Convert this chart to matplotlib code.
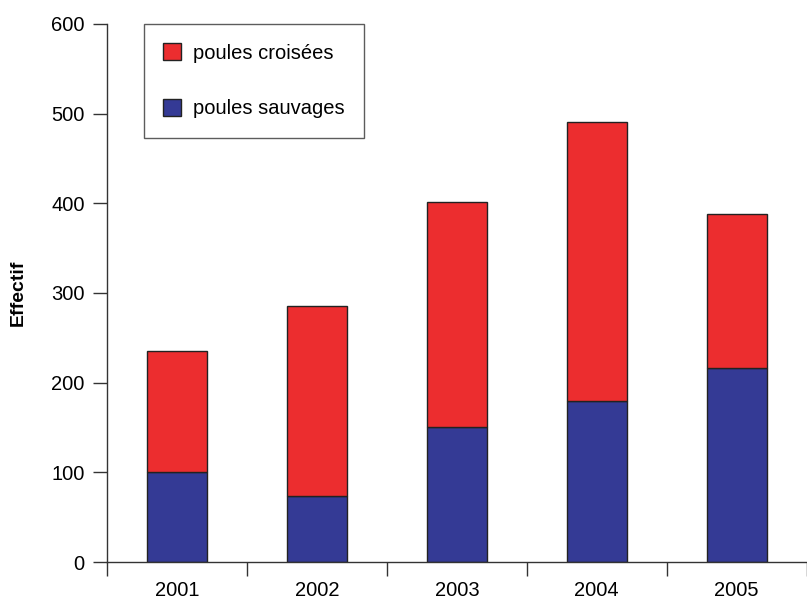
import numpy as np
import matplotlib
matplotlib.use("Agg")
import matplotlib.pyplot as plt
from matplotlib.ticker import FixedLocator

plt.rcParams['font.family'] = ['Liberation Sans', 'DejaVu Sans']

# Data
years = ["2001", "2002", "2003", "2004", "2005"]
sauvages = [100, 74, 150, 180, 216]
croisees = [135, 211, 251, 311, 172]

red = "#EC2D2F"
blue = "#343A95"
edge = "#222222"

fig = plt.figure(figsize=(8.07, 6.02), dpi=100)
ax = fig.add_axes([0.1326, 0.0664, 0.867, 0.894])

x = np.arange(len(years))
w = 0.43
ax.bar(x, sauvages, width=w, color=blue, edgecolor=edge, linewidth=1.0,
       label="poules sauvages")
ax.bar(x, croisees, width=w, bottom=sauvages, color=red, edgecolor=edge,
       linewidth=1.0, label="poules croisées")

ax.set_xlim(-0.5, len(years) - 0.5)
ax.set_ylim(0, 600)
ax.set_yticks(range(0, 601, 100))
ax.set_xticks(x)
ax.set_xticklabels(years)
ax.xaxis.set_minor_locator(FixedLocator(np.arange(-0.5, len(years), 1.0)))
ax.tick_params(axis='x', which='major', length=0, pad=14, labelsize=14.5)
ax.tick_params(axis='x', which='minor', length=10, width=1, direction='out', color="#333333")
ax.tick_params(axis='y', length=10, width=1, direction='out', pad=6, labelsize=14.5,
               color="#333333")

for s in ['top', 'right']:
    ax.spines[s].set_visible(False)
for s in ['left', 'bottom']:
    ax.spines[s].set_color("#333333")
    ax.spines[s].set_linewidth(1.0)

ax.set_ylabel("Effectif", fontsize=14, fontweight='bold', labelpad=18)

handles, labels = ax.get_legend_handles_labels()
leg = ax.legend(handles[::-1], labels[::-1], loc='upper left',
                bbox_to_anchor=(0.053, 1.0), fontsize=14.5, frameon=True,
                fancybox=False, edgecolor="#333333", handlelength=0.9,
                handleheight=0.95, labelspacing=1.8, borderpad=0.95,
                handletextpad=0.6, borderaxespad=0)
leg.get_frame().set_linewidth(1.0)

fig.savefig("out.png", dpi=100)
